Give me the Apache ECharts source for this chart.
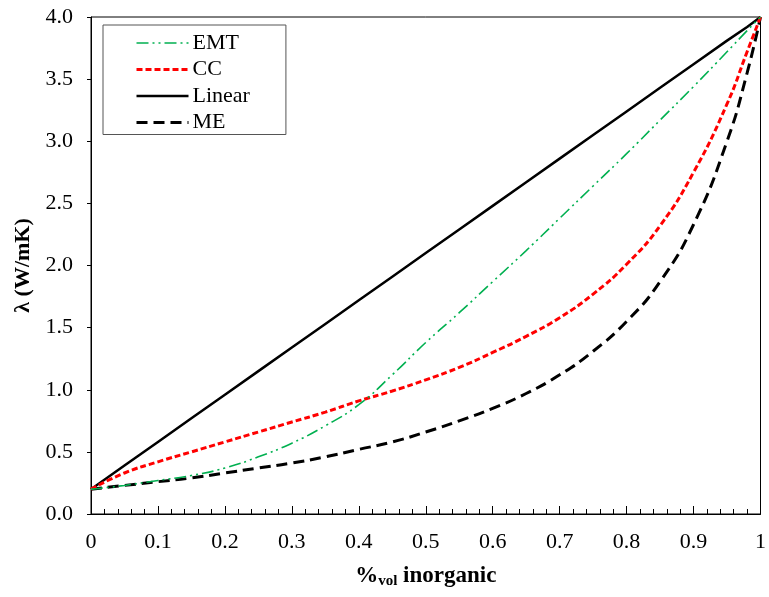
<!DOCTYPE html>
<html>
<head>
<meta charset="utf-8">
<script src="https://cdn.jsdelivr.net/npm/echarts@6/dist/echarts.min.js"></script>
<style>
    html, body { margin: 0; padding: 0; background: #fff; }
    #main { width: 769px; height: 597px; }
</style>
</head>
<body>
<div id="main"></div>
<script>
// 横坐标：无机物体积分数
var fractions = [0, 0.05, 0.1, 0.15, 0.2, 0.25, 0.3, 0.35, 0.4, 0.45, 0.5,
    0.55, 0.6, 0.65, 0.7, 0.75, 0.8, 0.85, 0.9, 0.95, 0.98, 1];
// 各模型的导热系数
var emt = [0.20, 0.23, 0.27, 0.31, 0.37, 0.46, 0.57, 0.71, 0.88, 1.12, 1.38,
    1.62, 1.87, 2.12, 2.38, 2.64, 2.90, 3.17, 3.44, 3.72, 3.89, 4.00];
var cc = [0.20, 0.33, 0.42, 0.50, 0.58, 0.66, 0.74, 0.82, 0.91, 0.99, 1.08,
    1.18, 1.30, 1.43, 1.58, 1.77, 2.01, 2.32, 2.75, 3.30, 3.72, 4.00];
var linear = [0.20, 0.39, 0.58, 0.77, 0.96, 1.15, 1.34, 1.53, 1.72, 1.91, 2.10,
    2.29, 2.48, 2.67, 2.86, 3.05, 3.24, 3.43, 3.62, 3.81, 3.92, 4.00];
var me = [0.20, 0.23, 0.26, 0.29, 0.33, 0.37, 0.41, 0.46, 0.52, 0.58, 0.66,
    0.75, 0.85, 0.97, 1.12, 1.31, 1.55, 1.87, 2.33, 3.00, 3.55, 4.00];

var serif = '"Liberation Serif", "DejaVu Serif", serif';

// 线型
var emtLine = { color: '#00b050', width: 1.6, type: [12, 4, 2, 4, 2, 4] };
var ccLine = { color: '#ff0000', width: 3, type: [6, 3] };
var linearLine = { color: '#000', width: 2.5, type: 'solid' };
var meLine = { color: '#000', width: 3, type: [11, 6] };

function pairs(ys) {
    return fractions.map(function (x, i) { return [x, ys[i]]; });
}

var myechart = echarts.init(document.getElementById('main'));
var option = {
    animation: false,
    grid: {
        left: 91, right: 6, top: 17, bottom: 83,
        show: true,
        borderColor: '#000',
        borderWidth: 1
    },
    legend: {
        orient: 'vertical',
        left: 103,
        top: 25,
        padding: [7, 36, 1, 32],
        borderColor: '#555',
        borderWidth: 1,
        itemWidth: 52,
        itemHeight: 14,
        itemGap: 4.5,
        // 只显示线型，不显示圆点
        itemStyle: { opacity: 0 },
        textStyle: { fontFamily: serif, fontSize: 22, color: '#000', lineHeight: 22, padding: [0, 0, 0, -1] },
        data: [
            { name: 'EMT', lineStyle: emtLine },
            { name: 'CC', lineStyle: ccLine },
            { name: 'Linear', lineStyle: linearLine },
            { name: 'ME', lineStyle: meLine }
        ]
    },
    xAxis: {
        type: 'value',
        min: 0,
        max: 1,
        interval: 0.1,
        name: '{b|%}{s|vol}{b| inorganic}',
        nameLocation: 'middle',
        nameGap: 50,
        nameTextStyle: {
            rich: {
                b: { fontFamily: serif, fontSize: 23, fontWeight: 'bold', color: '#000' },
                s: { fontFamily: serif, fontSize: 15, fontWeight: 'bold', color: '#000', verticalAlign: 'bottom', padding: [10, 0, 0, 0] }
            }
        },
        axisLine: { lineStyle: { color: '#000', width: 1 } },
        axisTick: { inside: true, length: 8, lineStyle: { color: '#000' } },
        minorTick: { show: true, splitNumber: 5, length: 5, lineStyle: { color: '#000' } },
        splitLine: { show: false },
        axisLabel: {
            margin: 17,
            fontFamily: serif,
            fontSize: 22,
            color: '#000',
            formatter: function (v) {
                if (v === 0) return '0';
                if (v === 1) return '1';
                return v.toFixed(1);
            }
        }
    },
    yAxis: {
        type: 'value',
        min: 0,
        max: 4,
        interval: 0.5,
        name: 'λ (W/mK)',
        nameLocation: 'middle',
        nameGap: 55,
        nameTextStyle: { fontFamily: serif, fontSize: 22, fontWeight: 'bold', color: '#000' },
        axisLine: { show: true, lineStyle: { color: '#000', width: 1 } },
        axisTick: { show: true, inside: false, length: 4, lineStyle: { color: '#000' } },
        splitLine: { show: false },
        axisLabel: {
            margin: 18,
            fontFamily: serif,
            fontSize: 22,
            color: '#000',
            formatter: function (v) { return v.toFixed(1); }
        }
    },
    series: [
        {
            name: 'EMT',
            type: 'line',
            smooth: true,
            symbol: 'none',
            data: pairs(emt),
            itemStyle: { color: '#00b050' },
            lineStyle: emtLine,
            z: 4
        },
        {
            name: 'CC',
            type: 'line',
            smooth: true,
            symbol: 'none',
            data: pairs(cc),
            itemStyle: { color: '#ff0000' },
            lineStyle: ccLine,
            z: 3
        },
        {
            name: 'Linear',
            type: 'line',
            symbol: 'none',
            data: pairs(linear),
            itemStyle: { color: '#000' },
            lineStyle: linearLine,
            z: 2
        },
        {
            name: 'ME',
            type: 'line',
            smooth: true,
            symbol: 'none',
            data: pairs(me),
            itemStyle: { color: '#000' },
            lineStyle: meLine,
            z: 2
        }
    ]
};
myechart.setOption(option);
</script>
</body>
</html>
